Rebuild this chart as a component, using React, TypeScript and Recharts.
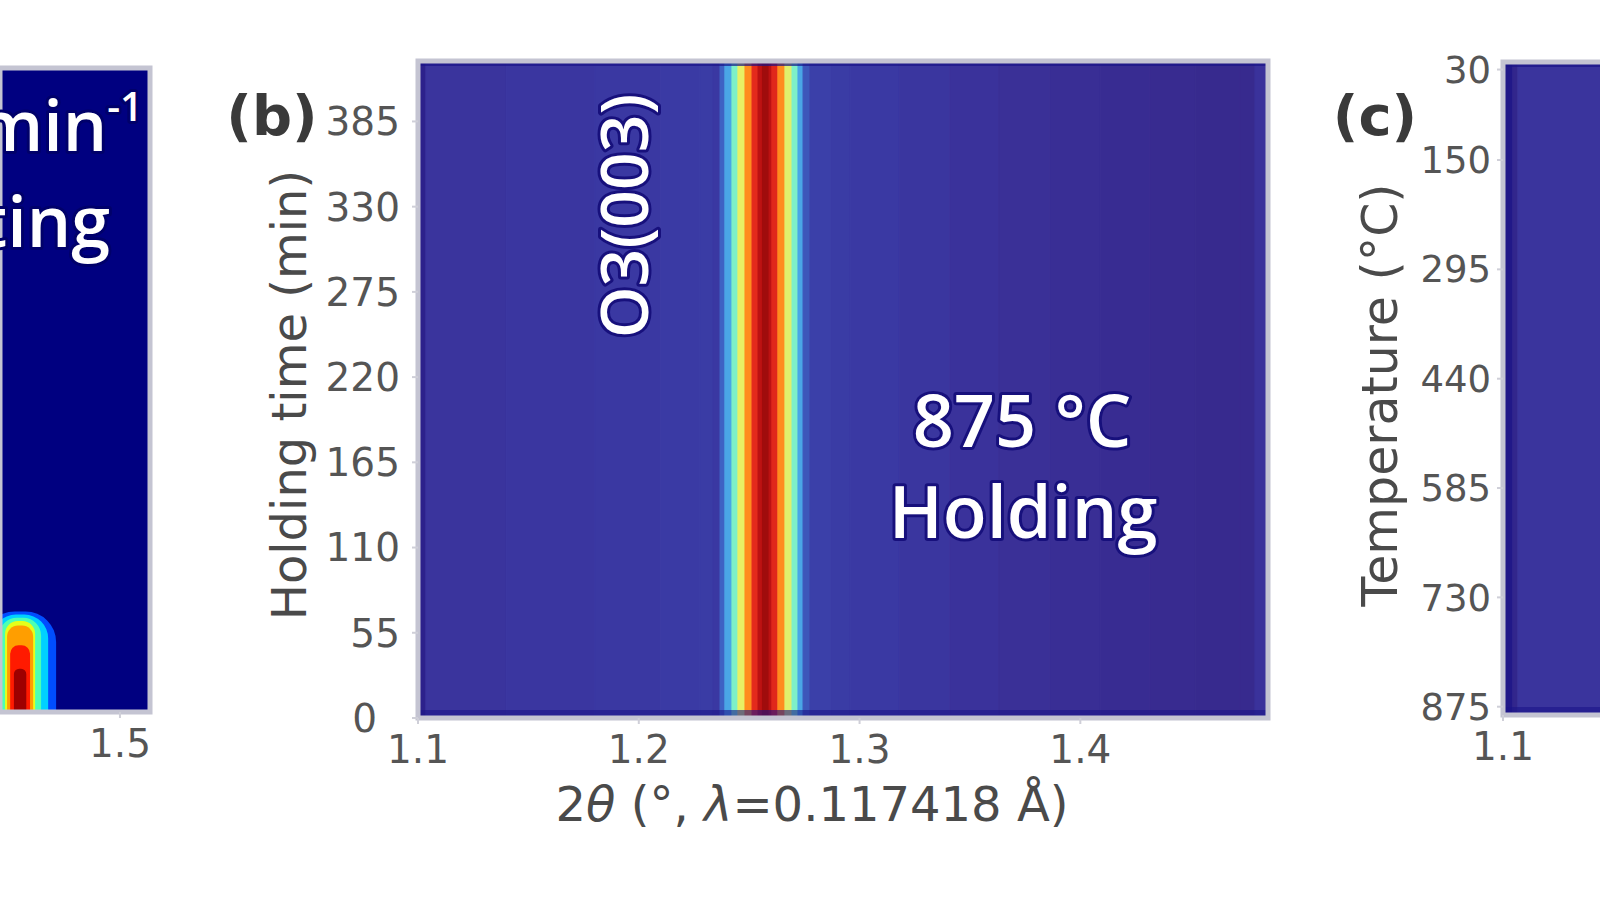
import React from 'react';
import { ComposedChart, XAxis, YAxis, ReferenceArea, Rectangle } from 'recharts';

// ---------- Panel (b): 875 °C holding ----------
const holdTwoThetaEdges = [
  1.1, 1.1036, 1.14, 1.18, 1.21, 1.2277, 1.2336, 1.2368, 1.239, 1.2422, 1.2449,
  1.2481, 1.2513, 1.254, 1.256, 1.259, 1.2603, 1.263, 1.2662, 1.2694, 1.2721,
  1.2744, 1.2775, 1.287, 1.2957, 1.318, 1.3409, 1.363, 1.3862, 1.409, 1.4315,
  1.452, 1.4723, 1.4791, 1.485,
];
const holdIntensity = [
  0.03, 0.09, 0.095, 0.1, 0.105, 0.11, 0.1, 0.18, 0.3, 0.42, 0.55, 0.68, 0.82,
  0.92, 1.0, 0.92, 0.83, 0.68, 0.54, 0.42, 0.3, 0.16, 0.12, 0.11, 0.102, 0.094,
  0.086, 0.078, 0.07, 0.062, 0.055, 0.05, 0.05, 0.085,
];
const holdTimeTicks = [0, 55, 110, 165, 220, 275, 330, 385];
const holdTwoThetaTicks = [1.1, 1.2, 1.3, 1.4];
const holdTimeRange = [0, 424];
const holdTwoThetaRange = [1.1, 1.485];

// ---------- Panel (c): cooling ----------
const coolTwoThetaEdges = [1.1, 1.1045, 1.1068, 1.1442];
const coolIntensity = [0.01, 0.04, 0.09];
const coolTempTicks = [30, 150, 295, 440, 585, 730, 875];
const coolTwoThetaTicks = [1.1];
const coolTempRange = [20, 886];
const coolTwoThetaRange = [1.1, 1.1442];

// ---------- Panel (a): heating ----------
const heatTwoThetaRange = [1.4457, 1.5136];
const heatTimeRange = [0, 82];
const heatTwoThetaTicks = [1.5];
const heatTimeTicks = [16, 32, 48, 64, 80];
const heatBackground = 0;
const heatPeakLevel = [0.2, 0.33, 0.45, 0.6, 0.72, 0.85, 0.97];
const heatPeakLo = [1.4385, 1.4421, 1.4453, 1.448, 1.4489, 1.4503, 1.452];
const heatPeakHi = [1.4711, 1.4675, 1.4643, 1.4616, 1.4607, 1.4593, 1.4576];
const heatPeakTop = [12.8, 12.4, 12.0, 11.6, 11.0, 8.5, 5.5];

// ---------- colour maps ----------
const washedStops: [number, string][] = [
  [0.0, '#1c1486'],
  [0.05, '#372a8e'],
  [0.08, '#3a3098'],
  [0.1, '#3a38a2'],
  [0.13, '#3b44ac'],
  [0.18, '#3e62c4'],
  [0.3, '#4aa6e6'],
  [0.42, '#7ef0c8'],
  [0.55, '#e8f064'],
  [0.68, '#ff8c1e'],
  [0.82, '#e42a1c'],
  [0.92, '#bc1212'],
  [1.0, '#a00c0c'],
];
const hex = (c: string) => [1, 3, 5].map((i) => parseInt(c.slice(i, i + 2), 16));
function washedJet(t: number): string {
  for (let i = 1; i < washedStops.length; i++) {
    const [t1, c1] = washedStops[i];
    const [t0, c0] = washedStops[i - 1];
    if (t <= t1) {
      const f = (t - t0) / (t1 - t0 || 1);
      const a = hex(c0);
      const b = hex(c1);
      const m = a.map((v, k) => Math.round(v + (b[k] - v) * f));
      return `rgb(${m[0]},${m[1]},${m[2]})`;
    }
  }
  return washedStops[washedStops.length - 1][1];
}
function jet(t: number): string {
  const cl = (v: number) => Math.max(0, Math.min(1, v));
  const r = cl(1.5 - Math.abs(4 * t - 3));
  const g = cl(1.5 - Math.abs(4 * t - 2));
  const b = cl(1.5 - Math.abs(4 * t - 1));
  return `rgb(${Math.round(r * 255)},${Math.round(g * 255)},${Math.round(b * 255)})`;
}

const cells = (edges: number[], vals: number[]) =>
  vals.map((v, i) => ({ lo: edges[i], hi: edges[i + 1], v }));
const holdCells = cells(holdTwoThetaEdges, holdIntensity);
const coolCells = cells(coolTwoThetaEdges, coolIntensity);
const heatPeak = heatPeakLevel.map((v, i) => ({
  lo: heatPeakLo[i],
  hi: heatPeakHi[i],
  top: heatPeakTop[i],
  v,
}));

const tickStyle = { fontSize: 39, fill: '#555555', fontFamily: 'DejaVu Sans' };
const tickLineStyle = { stroke: '#cfcfd8', strokeWidth: 2 };

const HoldTimeTick = (props: any) => {
  const { x, y, payload } = props;
  const shift = payload.value === 0 ? 23 : 0;
  return (
    <text x={x - shift} y={y} dy="0.355em" textAnchor="end" fontSize={39} fill="#555555" fontFamily="DejaVu Sans">
      {payload.value}
    </text>
  );
};

const FrameShape = (props: any) => {
  const { x, y, width, height, band } = props;
  return (
    <g>
      {band && <rect x={x} y={y} width={width} height={5} fill="#1a1488" opacity={0.7} />}
      {band && <rect x={x} y={y + height - 8} width={width} height={8} fill="#1a1488" opacity={0.6} />}
      <rect x={x} y={y} width={width} height={height} fill="none" stroke="#c4c4d2" strokeWidth={5} />
    </g>
  );
};

const DomeShape = (props: any) => {
  const { x, y, width, height, fill } = props;
  const r = Math.min(width / 2, height) * 0.85;
  return <Rectangle x={x} y={y} width={width} height={height} fill={fill} stroke="none" radius={[r, r, 0, 0]} />;
};

const whiteText: React.CSSProperties = {
  fontFamily: 'Open Sans',
  fontWeight: 600,
  fill: '#ffffff',
  stroke: '#17107c',
  strokeWidth: 6,
  strokeLinejoin: 'round',
  paintOrder: 'stroke',
};

export default function App() {
  return (
    <div style={{ position: 'absolute', left: 0, top: 0, width: 1600, height: 900, overflow: 'hidden', background: '#ffffff' }}>
      {/* Panel (a) */}
      <div style={{ position: 'absolute', left: 0, top: 0 }}>
        <ComposedChart width={160} height={900} margin={{ top: 68, right: 0, bottom: 128, left: 0 }} data={heatPeak}>
          <XAxis
            dataKey="lo"
            type="number"
            domain={heatTwoThetaRange}
            ticks={heatTwoThetaTicks}
            allowDataOverflow
            interval={0}
            tickFormatter={(v: number) => v.toFixed(1)}
            axisLine={false}
            tickLine={tickLineStyle}
            tickSize={6}
            tickMargin={11}
            height={60}
            tick={tickStyle}
          />
          <YAxis yAxisId="left" hide type="number" domain={heatTimeRange} allowDataOverflow />
          <YAxis
            yAxisId="right"
            orientation="right"
            type="number"
            domain={heatTimeRange}
            ticks={heatTimeTicks}
            allowDataOverflow
            width={10}
            tick={false}
            axisLine={false}
            tickLine={tickLineStyle}
            tickSize={6}
          />
          <ReferenceArea
            yAxisId="left"
            x1={heatTwoThetaRange[0]}
            x2={heatTwoThetaRange[1]}
            y1={heatTimeRange[0]}
            y2={heatTimeRange[1]}
            fill={jet(heatBackground)}
            fillOpacity={1}
            stroke="none"
            ifOverflow="hidden"
          />
          {heatPeak.map((c, i) => (
            <ReferenceArea
              key={`hp${i}`}
              yAxisId="left"
              x1={c.lo}
              x2={c.hi}
              y1={0}
              y2={c.top}
              fill={jet(c.v)}
              fillOpacity={1}
              ifOverflow="hidden"
              shape={DomeShape}
            />
          ))}
          <ReferenceArea
            yAxisId="left"
            x1={heatTwoThetaRange[0]}
            x2={heatTwoThetaRange[1]}
            y1={heatTimeRange[0]}
            y2={heatTimeRange[1]}
            ifOverflow="visible"
            shape={(p: any) => <FrameShape {...p} band={false} />}
          />
        </ComposedChart>
      </div>

      {/* Panel (b) */}
      <div style={{ position: 'absolute', left: 0, top: 0 }}>
        <ComposedChart width={1300} height={900} margin={{ top: 61, right: 22, bottom: 122, left: 298 }} data={holdCells}>
          <XAxis
            dataKey="lo"
            type="number"
            domain={holdTwoThetaRange}
            ticks={holdTwoThetaTicks}
            allowDataOverflow
            interval={0}
            tickFormatter={(v: number) => v.toFixed(1)}
            axisLine={false}
            tickLine={tickLineStyle}
            tickSize={6}
            tickMargin={11}
            height={60}
            tick={tickStyle}
          />
          <YAxis
            yAxisId="left"
            type="number"
            domain={holdTimeRange}
            ticks={holdTimeTicks}
            allowDataOverflow
            interval={0}
            width={120}
            axisLine={false}
            tickLine={tickLineStyle}
            tickSize={6}
            tickMargin={12}
            tick={HoldTimeTick}
          />
          <YAxis
            yAxisId="right"
            orientation="right"
            type="number"
            domain={holdTimeRange}
            ticks={holdTimeTicks}
            allowDataOverflow
            width={10}
            tick={false}
            axisLine={false}
            tickLine={tickLineStyle}
            tickSize={6}
          />
          {holdCells.map((c, i) => (
            <ReferenceArea
              key={`h${i}`}
              yAxisId="left"
              x1={c.lo}
              x2={c.hi}
              y1={holdTimeRange[0]}
              y2={holdTimeRange[1]}
              fill={washedJet(c.v)}
              fillOpacity={1}
              stroke={washedJet(c.v)}
              strokeWidth={1}
              ifOverflow="hidden"
            />
          ))}
          <ReferenceArea
            yAxisId="left"
            x1={holdTwoThetaRange[0]}
            x2={holdTwoThetaRange[1]}
            y1={holdTimeRange[0]}
            y2={holdTimeRange[1]}
            ifOverflow="visible"
            shape={(p: any) => <FrameShape {...p} band={true} />}
          />
        </ComposedChart>
      </div>

      {/* Panel (c) */}
      <div style={{ position: 'absolute', left: 1250, top: 0 }}>
        <ComposedChart width={350} height={900} margin={{ top: 62, right: 0, bottom: 125, left: 133 }} data={coolCells}>
          <XAxis
            dataKey="lo"
            type="number"
            domain={coolTwoThetaRange}
            ticks={coolTwoThetaTicks}
            allowDataOverflow
            interval={0}
            tickFormatter={(v: number) => v.toFixed(1)}
            axisLine={false}
            tickLine={tickLineStyle}
            tickSize={6}
            tickMargin={11}
            height={60}
            tick={tickStyle}
          />
          <YAxis
            yAxisId="left"
            type="number"
            reversed
            domain={coolTempRange}
            ticks={coolTempTicks}
            allowDataOverflow
            interval={0}
            width={120}
            axisLine={false}
            tickLine={tickLineStyle}
            tickSize={6}
            tickMargin={6}
            tick={{ ...tickStyle, fontSize: 37 }}
          />
          {coolCells.map((c, i) => (
            <ReferenceArea
              key={`c${i}`}
              yAxisId="left"
              x1={c.lo}
              x2={c.hi}
              y1={coolTempRange[0]}
              y2={coolTempRange[1]}
              fill={washedJet(c.v)}
              fillOpacity={1}
              stroke={washedJet(c.v)}
              strokeWidth={1}
              ifOverflow="hidden"
            />
          ))}
          <ReferenceArea
            yAxisId="left"
            x1={coolTwoThetaRange[0]}
            x2={coolTwoThetaRange[1] + 0.01}
            y1={coolTempRange[0]}
            y2={coolTempRange[1]}
            ifOverflow="visible"
            shape={(p: any) => <FrameShape {...p} band={true} />}
          />
        </ComposedChart>
      </div>

      {/* Text annotations */}
      <svg width={1600} height={900} style={{ position: 'absolute', left: 0, top: 0, pointerEvents: 'none' }}>
        <text x={272} y={135} textAnchor="middle" fontFamily="DejaVu Sans" fontWeight="bold" fontSize={56} fill="#3a3a3a">(b)</text>
        <text x={1375} y={135} textAnchor="middle" fontFamily="DejaVu Sans" fontWeight="bold" fontSize={56} fill="#3a3a3a">(c)</text>
        <text transform="translate(289,395) rotate(-90)" textAnchor="middle" dominantBaseline="central" fontFamily="DejaVu Sans" fontSize={48} fill="#4a4a4a">Holding time (min)</text>
        <text transform="translate(1380,395) rotate(-90)" textAnchor="middle" dominantBaseline="central" fontFamily="DejaVu Sans" fontSize={49} fill="#4a4a4a">Temperature (°C)</text>
        <text x={812} y={821} textAnchor="middle" fontFamily="DejaVu Sans" fontSize={48} fill="#4a4a4a">
          2<tspan fontStyle="italic">θ</tspan> (°, <tspan fontStyle="italic">λ</tspan>=0.117418 Å)
        </text>
        <text transform="translate(622,216) rotate(-90)" textAnchor="middle" dominantBaseline="central" fontSize={66} style={whiteText}>O3(003)</text>
        <text x={1022} y={447} textAnchor="middle" fontSize={72} style={whiteText}>875 °C</text>
        <text x={1023} y={538} textAnchor="middle" fontSize={72} style={whiteText}>Holding</text>
        <text x={143} y={151} textAnchor="end" fontSize={70} style={{ ...whiteText, stroke: '#00006a' }}>
          10 °C min<tspan fontSize={40} dy={-30}>-1</tspan>
        </text>
        <text x={110} y={247} textAnchor="end" fontSize={70} style={{ ...whiteText, stroke: '#00006a' }}>Heating</text>
      </svg>
    </div>
  );
}
